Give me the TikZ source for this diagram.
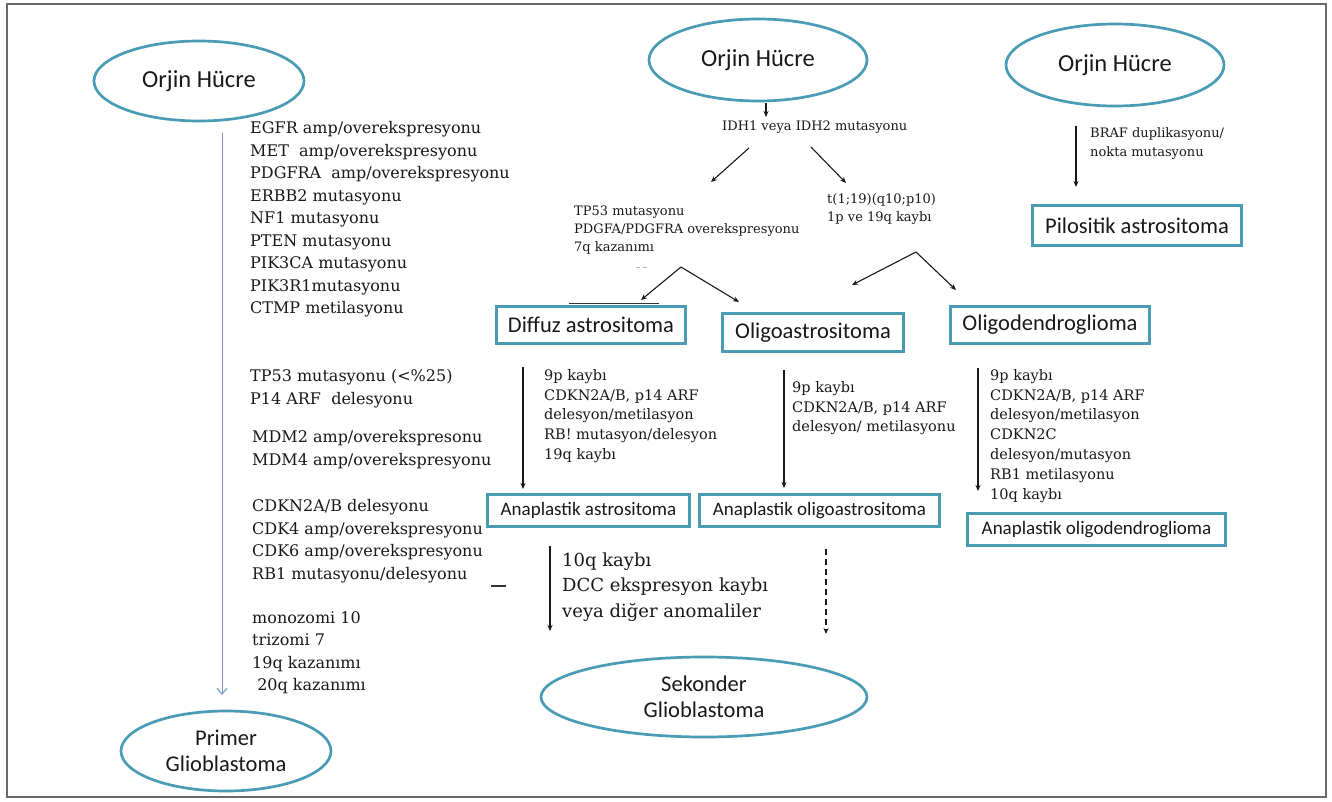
\documentclass[tikz,border=0pt]{standalone}
\usepackage{fontspec}
\setmainfont{DejaVu Serif}
\newfontfamily\calib{Carlito}
\usetikzlibrary{arrows.meta,shapes.geometric}
\definecolor{tealline}{RGB}{74,156,180}
\definecolor{framegray}{RGB}{105,105,105}
\definecolor{bluearrow}{RGB}{120,148,196}
\definecolor{ink}{RGB}{25,25,25}
\begin{document}
\begin{tikzpicture}[x=1pt,y=-1pt,
  oval/.style={ellipse, draw=tealline, line width=2.7pt, inner sep=0pt, text=ink, align=center},
  ovaltitle/.style={oval, font=\calib\fontsize{24.5}{28}\selectfont},
  ovalglio/.style={oval, font=\calib\fontsize{22.5}{26}\selectfont},
  tbox/.style={rectangle, draw=tealline, line width=2.7pt, inner sep=0pt, text=ink, font=\calib\fontsize{22.5}{26}\selectfont},
  sbox/.style={tbox, font=\calib\fontsize{19}{22}\selectfont},
  txtL/.style={anchor=north west, inner sep=0pt, align=left, text=ink, font=\fontsize{16}{22.5}\selectfont},
  txtS/.style={anchor=north west, inner sep=0pt, align=left, text=ink, font=\fontsize{13}{18}\selectfont},
  txtBR/.style={anchor=north west, inner sep=0pt, align=left, text=ink, font=\fontsize{13}{19}\selectfont},
  txtM/.style={anchor=north west, inner sep=0pt, align=left, text=ink, font=\fontsize{14.5}{19.8}\selectfont},
  txtB/.style={anchor=north west, inner sep=0pt, align=left, text=ink, font=\fontsize{18}{25.5}\selectfont},
  arr/.style={-{Stealth[length=6pt,width=5pt]}, line width=1.1pt, ink},
  arrdash/.style={arr, dashed, dash pattern=on 6pt off 4pt},
  bluearr/.style={-{Straight Barb[length=6pt,width=10pt]}, line width=1pt, bluearrow},
  straymark/.style={line width=1.3pt, black!80},
]
\useasboundingbox (0,0) rectangle (1332,802);
\fill[white] (0,0) rectangle (1332,802);
\draw[framegray, line width=1.5pt] (7,4) rectangle (1326,797);

% ---- ellipses ----
\node[ovaltitle, minimum width=210pt, minimum height=80pt] (E1) at (199,81) {Orjin Hücre};
\node[ovaltitle, minimum width=218pt, minimum height=82pt] (E2) at (758,60) {Orjin Hücre};
\node[ovaltitle, minimum width=218pt, minimum height=82pt] (E3) at (1115,65) {Orjin Hücre};
\node[ovalglio, minimum width=210pt, minimum height=80pt] (PG) at (226,751) {Primer\\Glioblastoma};
\node[ovalglio, minimum width=326pt, minimum height=80pt] (SG) at (704,697) {Sekonder\\Glioblastoma};

% ---- boxes ----
\node[tbox, minimum width=209.5pt, minimum height=40.5pt] (PA) at (1137,225.5) {Pilositik astrositoma};
\node[tbox, minimum width=189.5pt, minimum height=37.5pt] (DA) at (591,325) {Diffuz astrositoma};
\node[tbox, minimum width=181.5pt, minimum height=38.5pt] (OA) at (813,332.5) {Oligoastrositoma};
\node[tbox, minimum width=199.5pt, minimum height=37.5pt] (OD) at (1050,325) {Oligodendroglioma};
\node[sbox, minimum width=202.5pt, minimum height=32.5pt] (AA) at (588.5,510.5) {Anaplastik astrositoma};
\node[sbox, minimum width=240.5pt, minimum height=32.5pt] (AOA) at (819.5,510.5) {Anaplastik oligoastrositoma};
\node[sbox, minimum width=258.5pt, minimum height=32.5pt] (AOD) at (1096.5,529.5) {Anaplastik oligodendroglioma};

% ---- left column texts ----
\node[txtL] (L1) at (250,121.4) {EGFR amp/overekspresyonu\\MET\ \ amp/overekspresyonu\\PDGFRA\ \ amp/overekspresyonu\\ERBB2 mutasyonu\\NF1 mutasyonu\\PTEN mutasyonu\\PIK3CA mutasyonu\\PIK3R1mutasyonu\\CTMP metilasyonu};
\node[txtL] (L2) at (250,369.4) {TP53 mutasyonu (<\%25)\\P14 ARF\ \ delesyonu};
\node[txtL] (L3) at (252,430.4) {MDM2 amp/overekspresonu\\MDM4 amp/overekspresyonu};
\node[txtL] (L4) at (252,499.4) {CDKN2A/B delesyonu\\CDK4 amp/overekspresyonu\\CDK6 amp/overekspresyonu\\RB1 mutasyonu/delesyonu};
\node[txtL] (L5) at (252,611.4) {monozomi 10\\trizomi 7\\19q kazanımı\\\ 20q kazanımı};

% ---- middle / right texts ----
\node[txtS] (IDH) at (722,120.7) {IDH1 veya IDH2 mutasyonu};
\node[txtS] (TP) at (574,205.7) {TP53 mutasyonu\\PDGFA/PDGFRA overekspresyonu\\7q kazanımı};
\node[txtS] (T119) at (827,193.7) {t(1;19)(q10;p10)\\1p ve 19q kaybı};
\node[txtBR] (BRAF) at (1090,127.7) {BRAF duplikasyonu/\\nokta mutasyonu};
\node[txtM] (DC) at (544,369.1) {9p kaybı\\CDKN2A/B, p14 ARF\\delesyon/metilasyon\\RB! mutasyon/delesyon\\19q kaybı};
\node[txtM] (OC) at (792,381.1) {9p kaybı\\CDKN2A/B, p14 ARF\\delesyon/ metilasyonu};
\node[txtM] (ODC) at (990,369.1) {9p kaybı\\CDKN2A/B, p14 ARF\\delesyon/metilasyon\\CDKN2C\\delesyon/mutasyon\\RB1 metilasyonu\\10q kaybı};
\node[txtB] (TQ) at (562,552.6) {10q kaybı\\DCC ekspresyon kaybı\\veya diğer anomaliler};

% ---- connector end points ----
\coordinate (e2s) at (766,103);   \coordinate (idht) at (766,117);
\coordinate (idhl) at (749,148);  \coordinate (tpt) at (711,182);
\coordinate (idhr) at (811,147);  \coordinate (t19t) at (846,183);
\coordinate (tpap) at (681,267);  \coordinate (datp) at (641,300);  \coordinate (oatp) at (739,302);
\coordinate (t19ap) at (916,252); \coordinate (oat2) at (852,285);  \coordinate (odtp) at (956,290);
\coordinate (brs) at (1076,126);  \coordinate (brt) at (1076,187);
\coordinate (das) at (523,367);   \coordinate (dat) at (523,489);
\coordinate (oas) at (784,370);   \coordinate (oat) at (784,488);
\coordinate (ods) at (978,368);   \coordinate (odt) at (978,491);
\coordinate (aas) at (550,546);   \coordinate (aat) at (550,631);
\coordinate (aos) at (826,549);   \coordinate (aot) at (826,634);
\coordinate (e1s) at (222,133);   \coordinate (pgt) at (222,695);

% ---- connectors ----
\draw[arr] (e2s) -- (idht);
\draw[arr] (idhl) -- (tpt);
\draw[arr] (idhr) -- (t19t);
\draw[arr] (tpap) -- (datp);
\draw[arr] (tpap) -- (oatp);
\draw[arr] (t19ap) -- (oat2);
\draw[arr] (t19ap) -- (odtp);
\draw[arr] (brs) -- (brt);
\draw[arr] (das) -- (dat);
\draw[arr] (oas) -- (oat);
\draw[arr] (ods) -- (odt);
\draw[arr] (aas) -- (aat);
\draw[arrdash] (aos) -- (aot);
\draw[bluearr] (e1s) -- (pgt);

% ---- stray marks shown in the picture ----
\coordinate (m1a) at (569,303.5); \coordinate (m1b) at (659,303.5);
\draw[straymark] (m1a) -- (m1b);
\coordinate (m2a) at (491,586); \coordinate (m2b) at (506,586);
\draw[straymark] (m2a) -- (m2b);
\coordinate (m3a) at (636,267); \coordinate (m3b) at (640,267);
\coordinate (m3c) at (643,267); \coordinate (m3d) at (647,267);
\draw[black!30, line width=1pt] (m3a) -- (m3b) (m3c) -- (m3d);
\end{tikzpicture}
\end{document}
